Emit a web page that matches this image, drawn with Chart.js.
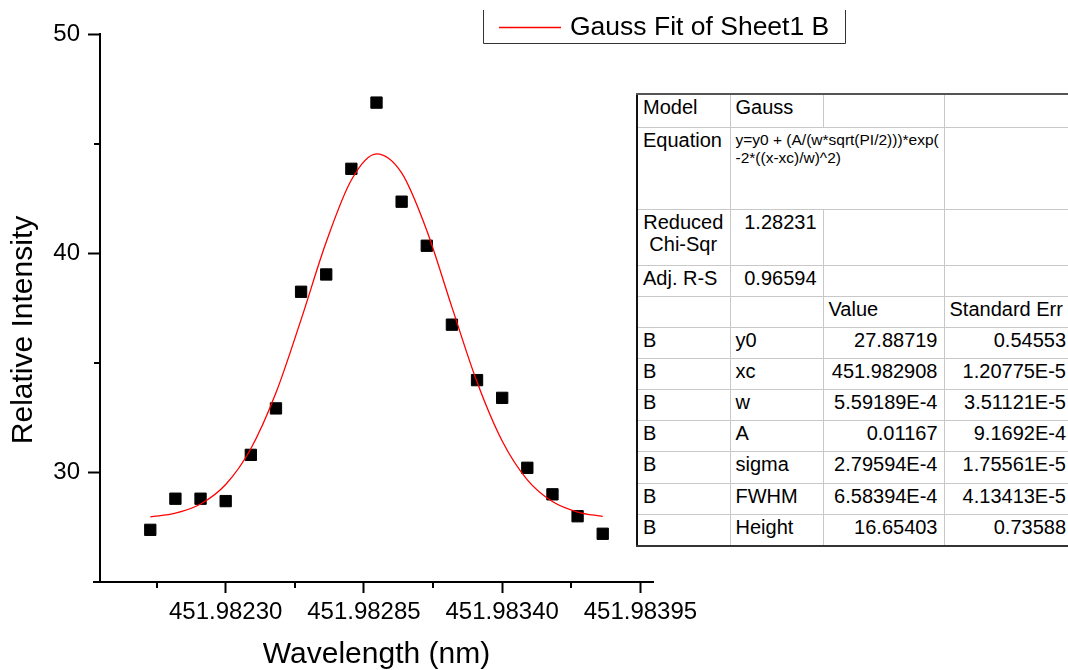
<!DOCTYPE html>
<html>
<head>
<meta charset="utf-8">
<title>Gauss Fit of Sheet1 B</title>
<script src="https://cdn.jsdelivr.net/npm/chart.js@4.4.1/dist/chart.umd.min.js"></script>
<style>
  html, body { margin: 0; padding: 0; background: #fff; }
  #wrap { position: relative; width: 1068px; height: 670px; overflow: hidden; }
  #plot { position: absolute; left: 0; top: 0; }
  #fit-table {
    position: absolute; left: 636px; top: 93px; width: 432px;
    border-collapse: collapse; table-layout: fixed; background: #fff;
    font: 20px 'Liberation Sans', Arial, sans-serif; color: #000;
    border-top: 2px solid #555; border-left: 2px solid #111; border-bottom: 2px solid #333;
    border-right: 0 none;
  }
  #fit-table td {
    border: 1px solid #c8c8c8; padding: 1px 6px 0 5px; vertical-align: top;
    line-height: 22px; white-space: nowrap; overflow: hidden;
  }
  #fit-table td:last-child { border-right: 0 none; padding-right: 3px; }
  #fit-table td.num { text-align: right; }
  #fit-table td.mid { text-align: center; }
  #fit-table td.eq { font-size: 15.5px; line-height: 18px; padding-top: 3px; }
</style>
</head>
<body>
<div id="wrap">
  <canvas id="plot" width="1068" height="670"></canvas>
  <table id="fit-table">
    <colgroup><col style="width:93px"><col style="width:93px"><col style="width:121px"><col style="width:125px"></colgroup>
    <tr style="height:33px"><td>Model</td><td>Gauss</td><td></td><td></td></tr>
    <tr style="height:82px"><td>Equation</td><td class="eq" colspan="2">y=y0 + (A/(w*sqrt(PI/2)))*exp(<br>-2*((x-xc)/w)^2)</td><td></td></tr>
    <tr style="height:56px"><td class="mid">Reduced<br>Chi-Sqr</td><td class="num">1.28231</td><td></td><td></td></tr>
    <tr style="height:31px"><td>Adj. R-S</td><td class="num">0.96594</td><td></td><td></td></tr>
    <tr style="height:31.2px"><td></td><td></td><td>Value</td><td>Standard Err</td></tr>
    <tr style="height:31.2px"><td>B</td><td>y0</td><td class="num">27.88719</td><td class="num">0.54553</td></tr>
    <tr style="height:31.2px"><td>B</td><td>xc</td><td class="num">451.982908</td><td class="num">1.20775E-5</td></tr>
    <tr style="height:31.2px"><td>B</td><td>w</td><td class="num">5.59189E-4</td><td class="num">3.51121E-5</td></tr>
    <tr style="height:31.2px"><td>B</td><td>A</td><td class="num">0.01167</td><td class="num">9.1692E-4</td></tr>
    <tr style="height:31.2px"><td>B</td><td>sigma</td><td class="num">2.79594E-4</td><td class="num">1.75561E-5</td></tr>
    <tr style="height:31.2px"><td>B</td><td>FWHM</td><td class="num">6.58394E-4</td><td class="num">4.13413E-5</td></tr>
    <tr style="height:31.2px"><td>B</td><td>Height</td><td class="num">16.65403</td><td class="num">0.73588</td></tr>
  </table>
</div>
<script>
// measured spectrum (Sheet1 B)
const wavelength = [
  451.98200, 451.98210, 451.98220, 451.98230, 451.98240, 451.98250, 451.98260,
  451.98270, 451.98280, 451.98290, 451.98300, 451.98310, 451.98320, 451.98330,
  451.98340, 451.98350, 451.98360, 451.98370, 451.98380
];
const intensity = [
  27.38, 28.80, 28.80, 28.69, 30.80, 32.92, 38.24,
  39.03, 43.85, 46.87, 42.35, 40.34, 36.74, 34.21,
  33.40, 30.21, 29.00, 28.00, 27.20
];
// Gauss fit curve, same wavelengths
const fitCurve = [
  27.97, 28.14, 28.56, 29.45, 31.08, 33.63, 36.97,
  40.51, 43.34, 44.53, 43.66, 41.04, 37.54, 34.12,
  31.43, 29.66, 28.67, 28.19, 27.99
];

const xMajorTicks = [451.98230, 451.98285, 451.98340, 451.98395];
const xMinorTicks = [451.982025, 451.982575, 451.983125, 451.983675];
const yMajorTicks = [30, 40, 50];
const yMinorTicks = [35, 45];

const FONT = "'Liberation Sans', Arial, sans-serif";
Chart.defaults.font.family = FONT;
Chart.defaults.color = '#000';

// minor ticks, y title and the boxed legend
const originExtras = {
  id: 'originExtras',
  afterDraw(chart) {
    const { ctx, chartArea: area, scales: { x, y } } = chart;
    ctx.save();
    ctx.strokeStyle = '#000';
    ctx.lineWidth = 2;
    ctx.beginPath();
    xMinorTicks.forEach(v => {
      const px = Math.round(x.getPixelForValue(v));
      ctx.moveTo(px, area.bottom);
      ctx.lineTo(px, area.bottom + 6);
    });
    yMinorTicks.forEach(v => {
      const py = Math.round(y.getPixelForValue(v));
      ctx.moveTo(area.left - 6, py);
      ctx.lineTo(area.left, py);
    });
    ctx.moveTo(area.left - 7, area.bottom);
    ctx.lineTo(area.left, area.bottom);
    ctx.stroke();

    ctx.fillStyle = '#000';
    ctx.font = '30px ' + FONT;
    ctx.textAlign = 'center';
    ctx.textBaseline = 'middle';
    ctx.translate(24, 330);
    ctx.rotate(-Math.PI / 2);
    ctx.fillText('Relative Intensity', 0, 0);
    ctx.setTransform(1, 0, 0, 1, 0, 0);

    const fit = chart.data.datasets[0];
    ctx.lineWidth = 1;
    ctx.strokeStyle = '#333';
    ctx.beginPath();
    ctx.moveTo(483.5, 10);
    ctx.lineTo(483.5, 43.5);
    ctx.lineTo(845.5, 43.5);
    ctx.lineTo(845.5, 10);
    ctx.stroke();
    ctx.strokeStyle = fit.borderColor;
    ctx.lineWidth = 1.3;
    ctx.beginPath();
    ctx.moveTo(499, 27.5);
    ctx.lineTo(561, 27.5);
    ctx.stroke();
    ctx.font = '26.5px ' + FONT;
    ctx.textAlign = 'left';
    ctx.fillText(fit.label, 570, 27.5);
    ctx.restore();
  }
};

new Chart(document.getElementById('plot'), {
  type: 'scatter',
  data: {
    datasets: [
      {
        label: 'Gauss Fit of Sheet1 B',
        data: wavelength.map((w, i) => ({ x: w, y: fitCurve[i] })),
        showLine: true,
        borderColor: '#ff0000',
        borderWidth: 1.3,
        pointRadius: 0,
        cubicInterpolationMode: 'monotone',
        order: 0
      },
      {
        label: 'Sheet1 B',
        data: wavelength.map((w, i) => ({ x: w, y: intensity[i] })),
        pointStyle: 'rect',
        pointRadius: 8,
        backgroundColor: '#000',
        borderColor: '#000',
        borderWidth: 1,
        order: 1
      }
    ]
  },
  options: {
    responsive: false,
    devicePixelRatio: 1,
    animation: false,
    events: [],
    layout: { padding: { left: 0, top: 34, right: 415, bottom: 0 } },
    plugins: { legend: { display: false }, tooltip: { enabled: false } },
    scales: {
      x: {
        type: 'linear',
        min: 451.9818,
        max: 451.9840,
        afterBuildTicks: s => { s.ticks = xMajorTicks.map(v => ({ value: v })); },
        afterFit: s => { s.height = 88; },
        border: { display: true, color: '#000', width: 2 },
        grid: { drawOnChartArea: false, drawTicks: true, tickLength: 11, tickWidth: 2, tickColor: '#000' },
        ticks: {
          autoSkip: false, maxRotation: 0, padding: 5,
          font: { size: 24 },
          callback: v => v.toFixed(5)
        },
        title: {
          display: true, text: 'Wavelength (nm)',
          font: { size: 30, lineHeight: 1 }, padding: { top: 0, bottom: 0 }
        }
      },
      y: {
        type: 'linear',
        min: 25,
        max: 50,
        afterBuildTicks: s => { s.ticks = yMajorTicks.map(v => ({ value: v })); },
        afterFit: s => { s.width = 100; },
        border: { display: true, color: '#000', width: 2 },
        grid: { drawOnChartArea: false, drawTicks: true, tickLength: 12, tickWidth: 2, tickColor: '#000' },
        ticks: { padding: 8, font: { size: 24 }, callback: v => String(v) }
      }
    }
  },
  plugins: [originExtras]
});
</script>
</body>
</html>
